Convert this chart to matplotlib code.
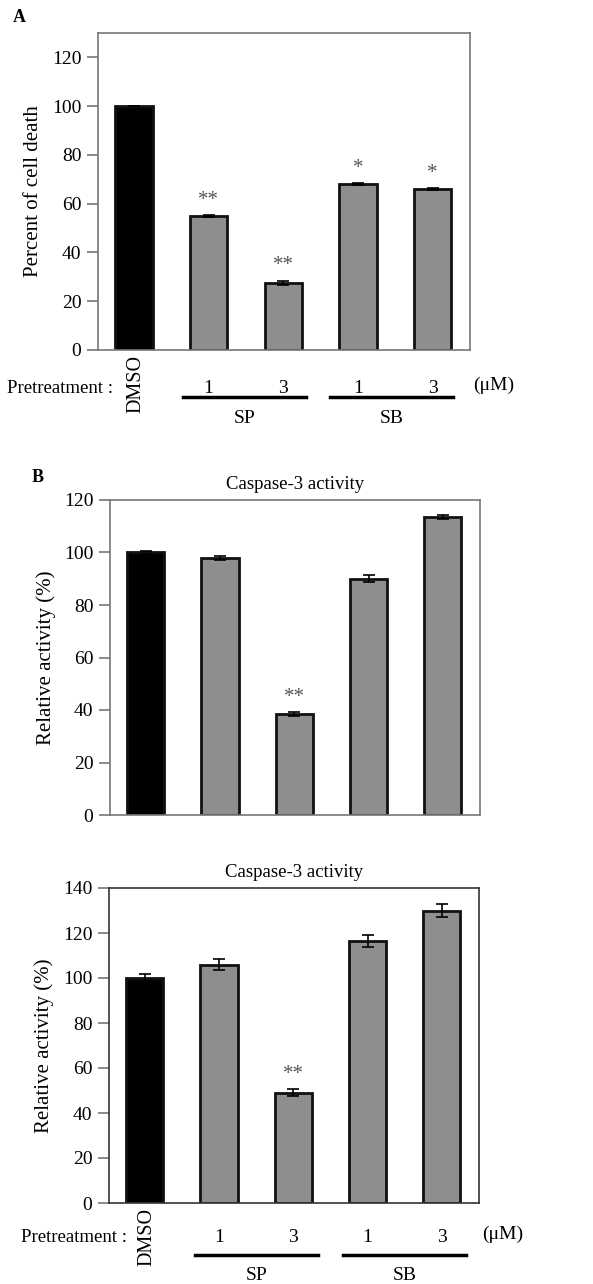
import matplotlib
matplotlib.use('Agg')
import matplotlib.pyplot as plt
import matplotlib.transforms as mtransforms

plt.rcParams['font.family'] = ['Liberation Serif', 'DejaVu Serif']

# data
groups = ['DMSO', 'SP 1', 'SP 3', 'SB 1', 'SB 3']
dose_labels = ['1', '3', '1', '3']
death_pct = [100, 55, 27.5, 68, 66]
death_err = [0, 0.3, 0.8, 0.3, 0.3]
death_stars = ['', '**', '**', '*', '*']
casp_a = [100, 98, 38.5, 90, 113.5]
casp_a_err = [0.5, 0.8, 0.6, 1.3, 0.7]
casp_a_stars = ['', '', '**', '', '']
casp_b = [100, 106, 49, 116.5, 130]
casp_b_err = [2.0, 2.5, 1.5, 2.5, 3.0]
casp_b_stars = ['', '', '**', '', '']

W, H = 593, 1284
fig = plt.figure(figsize=(W / 100, H / 100), dpi=100)


def px_axes(left, right, top, bottom):
    return fig.add_axes([left / W, 1 - bottom / H, (right - left) / W, (bottom - top) / H])


def draw_bars(ax, vals, errs, stars, ymax, spine_col='#777777'):
    x = list(range(len(vals)))
    colors = ['black'] + ['#8e8e8e'] * (len(vals) - 1)
    ax.bar(x, vals, width=0.5, color=colors, edgecolor='#111111', linewidth=2, zorder=2)
    ax.errorbar(x, vals, yerr=errs, fmt='none', ecolor='black', elinewidth=1.2,
                capsize=4, capthick=1.2, zorder=3)
    for xi, v, e, s in zip(x, vals, errs, stars):
        if s:
            ax.annotate(s, (xi, v + e), xytext=(0, 4), textcoords='offset points',
                        ha='center', va='bottom', fontsize=15, color='#555555')
    ax.set_xlim(-0.48, 4.5)
    ax.set_ylim(0, ymax)
    ax.set_xticks([])
    for sp in ax.spines.values():
        sp.set_color(spine_col)
        sp.set_linewidth(1.2)
    ax.tick_params(axis='y', direction='out', length=8, width=1.2, color='#777777',
                   labelsize=14, pad=4)


def draw_pretreatment(ax, y_num, y_line, y_grp, x_pre, x_dmso, lines):
    tr = mtransforms.blended_transform_factory(ax.transData, ax.transAxes)
    ax.text(x_pre, y_num, 'Pretreatment :', transform=tr, ha='right', va='center', fontsize=13.5)
    ax.text(x_dmso, -0.015, 'DMSO', transform=tr, ha='center', va='top', rotation=90, fontsize=14.5)
    for xi, lab in zip(range(1, 5), dose_labels):
        ax.text(xi, y_num, lab, transform=tr, ha='center', va='center', fontsize=14)
    ax.text(4.54, y_num + 0.01, '(\u03bcM)', transform=tr, ha='left', va='center', fontsize=14)
    for (x0, x1), name in zip(lines, ['SP', 'SB']):
        ax.plot([x0, x1], [y_line, y_line], transform=tr, color='black', lw=2.5, clip_on=False)
        ax.text((x0 + x1) / 2, y_grp, name, transform=tr, ha='center', va='center', fontsize=14)


# panel A
ax1 = px_axes(98, 470, 33, 350)
draw_bars(ax1, death_pct, death_err, death_stars, 130)
ax1.set_yticks(range(0, 121, 20))
ax1.set_ylabel('Percent of cell death', fontsize=15, labelpad=6)
draw_pretreatment(ax1, -0.12, -0.148, -0.215, -0.28, 0.03, [(0.66, 2.3), (2.63, 4.27)])
fig.text(13 / W, 1 - 17 / H, 'A', fontsize=13, fontweight='bold', va='center')

# panel B, upper
ax2 = px_axes(110, 480, 500, 815)
draw_bars(ax2, casp_a, casp_a_err, casp_a_stars, 120)
ax2.set_yticks(range(0, 121, 20))
ax2.set_ylabel('Relative activity (%)', fontsize=15, labelpad=6)
ax2.set_title('Caspase-3 activity', fontsize=13.5, pad=8)
fig.text(32 / W, 1 - 477 / H, 'B', fontsize=13, fontweight='bold', va='center')

# panel B, lower
ax3 = px_axes(109, 479, 888, 1203)
draw_bars(ax3, casp_b, casp_b_err, casp_b_stars, 140, spine_col='#333333')
ax3.set_yticks(range(0, 141, 20))
ax3.set_ylabel('Relative activity (%)', fontsize=15, labelpad=6)
ax3.set_title('Caspase-3 activity', fontsize=13.5, pad=8)
draw_pretreatment(ax3, -0.111, -0.165, -0.229, -0.24, 0.03, [(0.68, 2.33), (2.67, 4.32)])

fig.savefig('out.png', dpi=100)
